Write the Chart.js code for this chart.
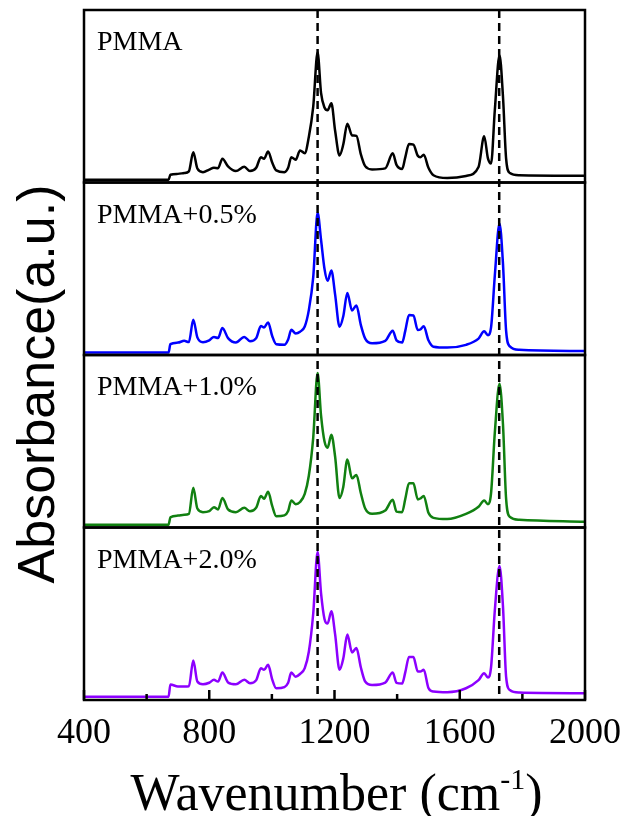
<!DOCTYPE html>
<html>
<head>
<meta charset="utf-8">
<script src="https://cdn.jsdelivr.net/npm/chart.js@4.4.1/dist/chart.umd.min.js"></script>
<style>
  html, body { margin: 0; padding: 0; background: #fff; }
  #wrap { width: 624px; height: 816px; }
</style>
</head>
<body>
<div id="wrap"><canvas id="grafico" width="624" height="816"></canvas></div>
<script>
// Eixo x (número de onda, cm-1) comum aos quatro espectros
const wavenumbers = [400, 670, 676, 700, 720, 735, 749, 762, 780, 800, 815, 828, 842, 860, 885, 912, 930, 950, 965, 975,
  988, 1001, 1014, 1040, 1052, 1062, 1076, 1090, 1105, 1118, 1132, 1146, 1157, 1168, 1178, 1190, 1202, 1216, 1228, 1241,
  1256, 1270, 1284, 1298, 1320, 1362, 1386, 1398, 1416, 1426, 1438, 1452, 1466, 1474, 1485, 1500, 1516, 1560, 1620, 1660,
  1678, 1690, 1700, 1712, 1727, 1738, 1748, 1760, 1790, 2000];

// Absorbância (u.a., 0-100 em cada painel)
const pmma = [1.6, 1.6, 4.5, 5.0, 5.5, 6.5, 17.6, 8.1, 6.0, 7.5, 8.5, 8.3, 13.8, 9.3, 6.6, 9.1, 6.6, 8.5, 14.7, 13.8,
  18.0, 11.6, 7.0, 6.0, 8.5, 14.7, 13.2, 18.6, 17.0, 26.4, 43.8, 75.5, 52, 43.5, 41.9, 45.9, 30, 15.7, 22, 34.1,
  27.3, 27.0, 16.5, 9.5, 7.6, 8.2, 16.9, 10.2, 7.8, 14.6, 22.3, 21.9, 15.5, 14.6, 16.1, 8.5, 4.2, 2.6, 3.8, 9,
  26.8, 14, 11, 42, 73.8, 50, 14, 5.5, 4.2, 3.9];
const pmma05 = [1.4, 1.4, 6.3, 7.2, 8.2, 7.5, 20.5, 10.2, 7.4, 8.5, 10.5, 9.8, 15.6, 9.8, 7.2, 10.5, 8.0, 9.8, 16.8, 16.0,
  18.9, 11, 6.2, 5.9, 9, 14.6, 12.5, 13.5, 16.5, 26, 45, 82.4, 66.8, 50, 43, 49, 35, 16.4, 22.5, 35.9,
  25.8, 28.7, 17.5, 9.5, 6.8, 8.2, 14.1, 8.5, 7.2, 14, 23.2, 22.9, 14.5, 14.8, 16.6, 8.5, 4.8, 4.3, 5.9, 9.5,
  13.7, 11.5, 16, 46, 76.2, 53.1, 14.1, 5, 3, 2.3];
const pmma10 = [1.6, 1.6, 5.9, 6.9, 7.4, 7.9, 23, 11, 8.9, 9.5, 11.8, 10.5, 17.1, 10.5, 8.9, 11.4, 9.4, 11.5, 18.3, 16.7,
  20.7, 12.5, 6.5, 7, 9.5, 15.7, 13.5, 14.8, 19.5, 30, 52, 89.6, 65, 50, 46.3, 53.7, 41, 17.1, 23.5, 39.4,
  28.5, 30.5, 20, 11, 7.9, 9.8, 16.1, 9.2, 8.9, 16.5, 25.6, 25.6, 16.3, 16.8, 18.3, 8.5, 5.6, 4.9, 7.9, 12,
  15.7, 13.5, 20, 55, 83.3, 60, 16.7, 6.2, 4.5, 3.3];
const pmma20 = [1.9, 1.9, 9, 7.8, 7.8, 8.0, 22.9, 10.7, 9.1, 10, 11.7, 10.7, 15.9, 10.2, 9.1, 11.7, 9.7, 11.5, 18.4, 17.5,
  20.4, 12, 6.8, 7.5, 10, 15.9, 13.5, 15.1, 18.5, 28, 50, 85.8, 62, 47, 44.3, 51.5, 38, 17.5, 24, 37.9,
  27.6, 30.1, 19, 10.7, 8.7, 10.1, 15.9, 9.9, 9.5, 16, 24.9, 24.9, 16.5, 16.5, 17.5, 7, 4.9, 4.5, 6.8, 11.5,
  15.5, 13, 19, 52, 77.7, 54.4, 13.6, 5.8, 4.3, 3.9];

const rotulos = ['PMMA', 'PMMA+0.5%', 'PMMA+1.0%', 'PMMA+2.0%'];
const cores = ['#000000', '#0000ff', '#118011', '#8c00ff'];
const ticksX = [400, 800, 1200, 1600, 2000];
const linhasTracejadas = [1146, 1726];

const serie = (dados) => wavenumbers.map((w, i) => ({ x: w, y: dados[i] }));

// Desenha molduras dos painéis, linhas tracejadas, ticks internos e textos
const molduraPlugin = {
  id: 'moldura',
  afterDatasetsDraw(chart) {
    const ctx = chart.ctx;
    const sx = chart.scales.x;
    const area = chart.chartArea;
    ctx.save();

    // linhas tracejadas
    ctx.strokeStyle = '#000';
    ctx.lineWidth = 2.5;
    ctx.setLineDash([8, 5]);
    linhasTracejadas.forEach(v => {
      const px = sx.getPixelForValue(v);
      ctx.beginPath();
      ctx.moveTo(px, area.top);
      ctx.lineTo(px, area.bottom);
      ctx.stroke();
    });
    ctx.setLineDash([]);

    // molduras e rótulos
    ctx.lineWidth = 2.5;
    chart.data.datasets.forEach((ds, i) => {
      const sy = chart.scales[ds.yAxisID];
      ctx.strokeRect(sx.left, sy.top, sx.right - sx.left, sy.bottom - sy.top);
      ctx.fillStyle = '#000';
      ctx.font = '28px "Liberation Serif"';
      ctx.textAlign = 'left';
      ctx.textBaseline = 'alphabetic';
      ctx.fillText(rotulos[i], sx.left + 13, sy.top + 40);
    });

    // ticks internos no eixo inferior
    ctx.lineWidth = 2.5;
    for (let v = 400; v <= 2000; v += 200) {
      const px = sx.getPixelForValue(v);
      const len = ticksX.includes(v) ? 10 : 6;
      ctx.beginPath();
      ctx.moveTo(px, area.bottom);
      ctx.lineTo(px, area.bottom - len);
      ctx.stroke();
    }

    // título do eixo y
    ctx.save();
    ctx.translate(54, 384);
    ctx.rotate(-Math.PI / 2);
    ctx.font = '52px "Liberation Sans"';
    ctx.textAlign = 'center';
    ctx.textBaseline = 'alphabetic';
    ctx.fillText('Absorbance(a.u.)', 0, 0);
    ctx.restore();

    // título do eixo x com sobrescrito
    const parte1 = 'Wavenumber (cm';
    const sup = '-1';
    const parte2 = ')';
    ctx.textAlign = 'left';
    ctx.font = '52px "Liberation Serif"';
    const w1 = ctx.measureText(parte1).width;
    const w3 = ctx.measureText(parte2).width;
    ctx.font = '30px "Liberation Serif"';
    const w2 = ctx.measureText(sup).width;
    const x0 = (area.left + area.right) / 2 + 2 - (w1 + w2 + w3) / 2;
    const base = 810;
    ctx.font = '52px "Liberation Serif"';
    ctx.fillText(parte1, x0, base);
    ctx.font = '30px "Liberation Serif"';
    ctx.fillText(sup, x0 + w1, base - 21);
    ctx.font = '52px "Liberation Serif"';
    ctx.fillText(parte2, x0 + w1 + w2, base);

    ctx.restore();
  }
};

const eixoY = () => ({
  type: 'linear',
  position: 'left',
  stack: 'paineis',
  stackWeight: 1,
  min: 0,
  max: 100,
  ticks: { display: false },
  grid: { display: false },
  border: { display: false },
  afterFit: (axis) => { axis.width = 0; }
});

// ordem de baixo para cima
const escalas = {
  x: {
    type: 'linear',
    min: 400,
    max: 2000,
    ticks: {
      stepSize: 200,
      autoSkip: false,
      maxRotation: 0,
      padding: 4,
      color: '#000',
      font: { family: 'Liberation Serif', size: 36 },
      callback: (v) => ticksX.includes(v) ? String(v) : ''
    },
    grid: { display: false },
    border: { display: false },
    afterFit: (axis) => {
      axis.height = 116;
      axis.paddingLeft = 0;
      axis.paddingRight = 0;
    }
  },
  y20: eixoY(),
  y10: eixoY(),
  y05: eixoY(),
  y00: eixoY()
};

const ctxG = document.getElementById('grafico').getContext('2d');
new Chart(ctxG, {
  type: 'line',
  data: {
    datasets: [
      { label: rotulos[0], data: serie(pmma), yAxisID: 'y00', borderColor: cores[0] },
      { label: rotulos[1], data: serie(pmma05), yAxisID: 'y05', borderColor: cores[1] },
      { label: rotulos[2], data: serie(pmma10), yAxisID: 'y10', borderColor: cores[2] },
      { label: rotulos[3], data: serie(pmma20), yAxisID: 'y20', borderColor: cores[3] }
    ].map(ds => Object.assign(ds, {
      borderWidth: 2.5,
      pointRadius: 0,
      fill: false,
      cubicInterpolationMode: 'monotone'
    }))
  },
  options: {
    responsive: false,
    animation: false,
    devicePixelRatio: 1,
    layout: { padding: { left: 84, right: 39, top: 10, bottom: 0 } },
    plugins: {
      legend: { display: false },
      tooltip: { enabled: false }
    },
    scales: escalas
  },
  plugins: [molduraPlugin]
});
</script>
</body>
</html>
